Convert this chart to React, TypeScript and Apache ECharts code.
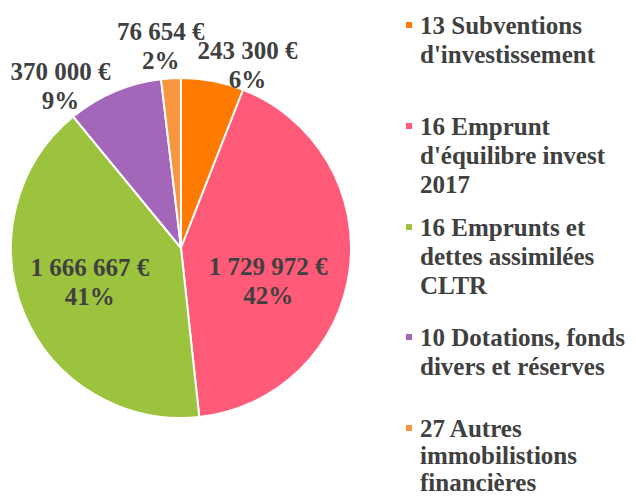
import React, { useEffect, useRef } from 'react';
import * as echarts from 'echarts';

const categories = [
  "13 Subventions\nd'investissement",
  "16 Emprunt\nd'équilibre invest\n2017",
  "16 Emprunts et\ndettes assimilées\nCLTR",
  "10 Dotations, fonds\ndivers et réserves",
  "27 Autres\nimmobilistions\nfinancières",
];
const values = [243300, 1729972, 1666667, 370000, 76654];
const colors = ['#FF7A00', '#FF5A78', '#9CC33E', '#A466B8', '#F7963F'];

// layout helpers (not data)
const labelPlacement = ['outside', 'inside', 'inside', 'outside', 'outside'];
const labelShift: number[][] = [[-22, -6], [0, 21], [-10, 0], [5, 4], [39, -22]];
const legendFirstLineY = [25, 126, 227, 337, 428];
const legendLineH = [29, 29, 29, 29, 27];

const FONT = 'Liberation Serif';
const FS = 25;
const LH = 29;
const TXT = '#404040';

const fmt = (v: number) => String(v).replace(/\B(?=(\d{3})+(?!\d))/g, ' ') + ' €';

export default function App() {
  const ref = useRef<HTMLDivElement>(null);
  useEffect(() => {
    document.body.style.margin = '0';
    const chart = echarts.init(ref.current!, null, { renderer: 'svg' });
    const legends = categories.map((c, i) => {
      const n = c.split('\n').length;
      const lh = legendLineH[i];
      return {
        data: [c],
        orient: 'vertical',
        left: 404,
        top: legendFirstLineY[i] - ((2 * n - 1) * lh) / 2,
        padding: 0,
        itemWidth: 8,
        itemHeight: 8,
        icon: 'rect',
        selectedMode: false,
        formatter: (name: string) => '\n'.repeat(name.split('\n').length - 1) + name,
        textStyle: {
          fontFamily: FONT,
          fontWeight: 'bold',
          fontSize: FS,
          lineHeight: lh,
          color: TXT,
          padding: [0, 0, 0, 2],
        },
      };
    });
    chart.setOption({
      animation: false,
      color: colors,
      legend: legends,
      series: [
        {
          type: 'pie',
          center: [181, 248],
          radius: 170,
          startAngle: 90,
          clockwise: true,
          avoidLabelOverlap: false,
          itemStyle: { borderColor: '#fff', borderWidth: 2 },
          labelLine: { show: false, length: 10, length2: 0 },
          label: {
            fontFamily: FONT,
            fontWeight: 'bold',
            fontSize: FS,
            lineHeight: LH,
            color: TXT,
            formatter: (p: any) => `${fmt(p.value)}\n${Math.round(p.percent)}%`,
          },
          labelLayout: (p: any) => {
            const [dx, dy] = labelShift[p.dataIndex];
            const r = p.labelRect;
            return {
              x: r.x + r.width / 2 + dx,
              y: r.y + r.height / 2 + dy,
              align: 'center',
              verticalAlign: 'middle',
            };
          },
          emphasis: { disabled: true },
          data: categories.map((name, i) => ({
            name,
            value: values[i],
            label: { position: labelPlacement[i] },
          })),
        },
      ],
    });
    return () => chart.dispose();
  }, []);
  return (
    <div
      ref={ref}
      style={{ position: 'absolute', left: 0, top: 0, width: 636, height: 497 }}
    />
  );
}
